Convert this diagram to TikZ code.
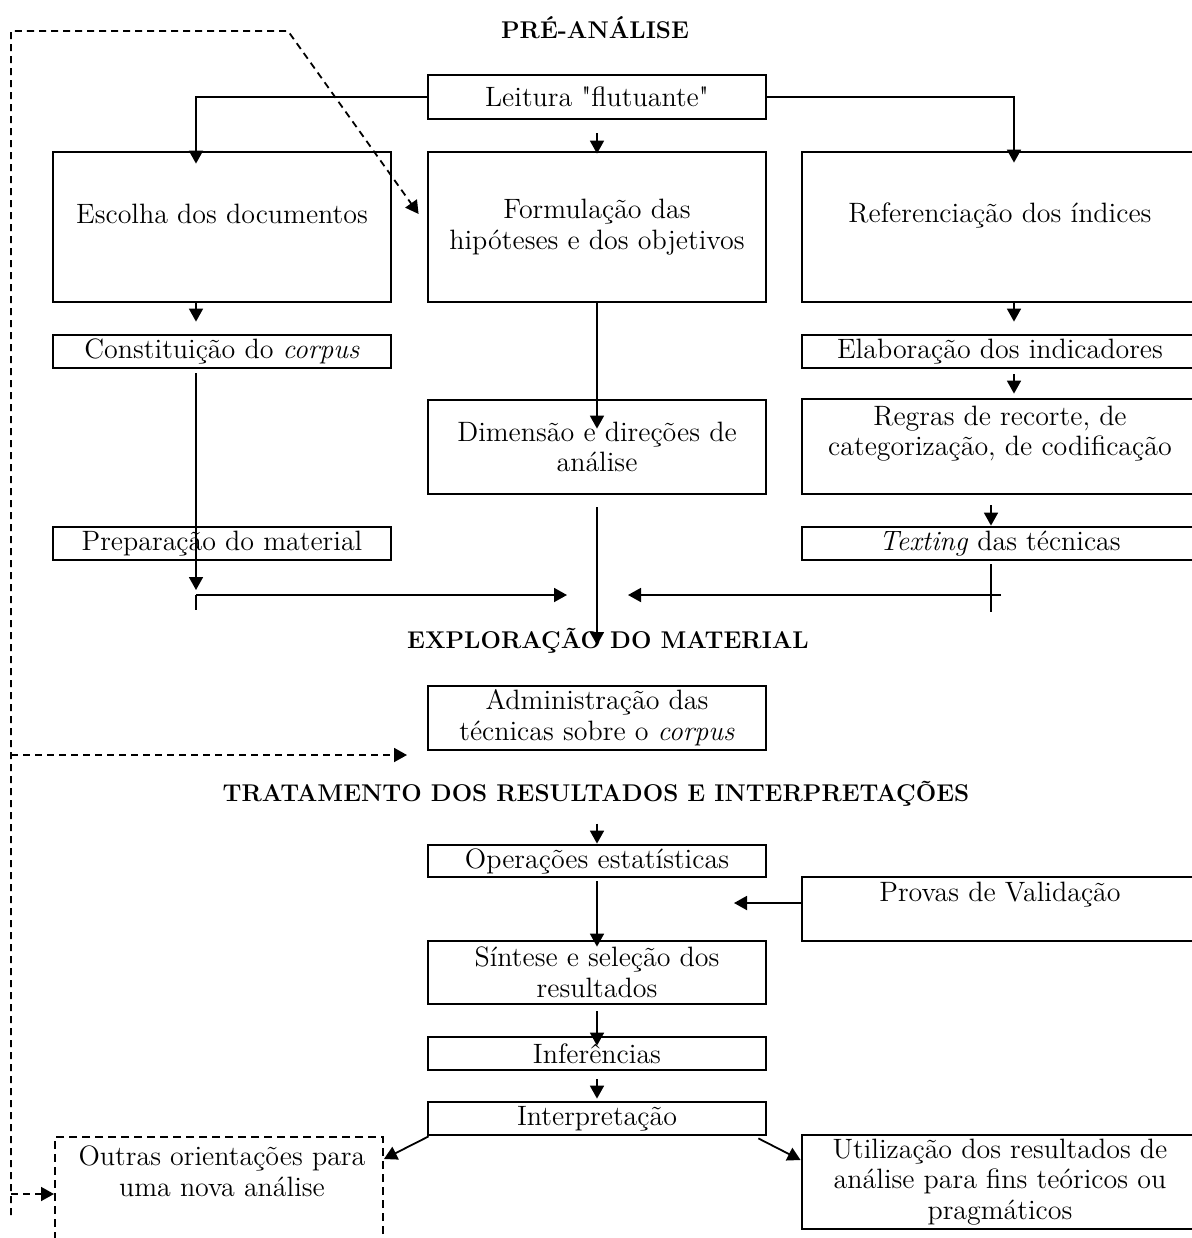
\documentclass[tikz,border=0pt]{standalone}
\usepackage{fontspec}
\usepackage{tikz}
\usetikzlibrary{arrows.meta}

\newfontfamily\plainlm{Latin Modern Roman}
\newcommand{\boxfont}{\fontsize{14}{15.3}\selectfont}
\newcommand{\headfont}{\fontsize{12.1}{14}\selectfont\bfseries}
\newcommand{\sq}{{\plainlm"}}

\tikzset{
  box/.style={draw, line width=1.4pt, inner sep=0pt, align=center, font=\boxfont},
  dbox/.style={box, line width=1pt, dash pattern=on 4pt off 2.5pt},
  txt/.style={inner sep=0pt, align=center, font=\boxfont},
  head/.style={inner sep=0pt, font=\headfont},
  con/.style={line width=0.9pt},
  arr/.style={con, -{Triangle[length=6.5pt,width=7pt]}},
  fb/.style={arr, dash pattern=on 3.5pt off 2.5pt},
}

\begin{document}
\begin{tikzpicture}[x=0.5pt, y=-0.5pt]
\useasboundingbox (0,0) rectangle (1191,1238);

\node[head] (pre) at (595,28) {PRÉ-ANÁLISE};
\node[box, minimum width=169pt, minimum height=22pt] (leitura) at (597,97) {Leitura \sq flutuante\sq};
\node[box, minimum width=169pt, minimum height=75pt] (escolha) at (222,227) {};
\node[txt] (escolhaT) at (222,214) {Escolha dos documentos};
\node[box, minimum width=169pt, minimum height=75pt] (formul) at (597,227) {Formulação das\\hipóteses e dos objetivos};
\node[box, minimum width=198pt, minimum height=75pt] (refer) at (1000,227) {};
\node[txt] (referT) at (1000,215) {Referenciação dos índices};
\node[box, minimum width=169pt, minimum height=16.5pt] (constit) at (222,351.5) {Constituição do \textit{corpus}};
\node[box, minimum width=198pt, minimum height=16.5pt] (elab) at (1000,351.5) {Elaboração dos indicadores};
\node[box, minimum width=169pt, minimum height=47pt] (dimensao) at (597,447) {Dimensão e direções de\\análise};
\node[box, minimum width=198pt, minimum height=47.5pt] (regras) at (1000,446.5) {};
\node[txt] (regrasT) at (1000,433.5) {Regras de recorte, de\\categorização, de codificação};
\node[box, minimum width=169pt, minimum height=16.5pt] (prepar) at (222,543.5) {Preparação do material};
\node[box, minimum width=198pt, minimum height=16.5pt] (texting) at (1000,543.5) {\textit{Texting} das técnicas};

\node[head] (explor) at (608,641) {EXPLORAÇÃO DO MATERIAL};
\node[box, minimum width=169pt, minimum height=32pt] (admin) at (597,718) {Administração das\\técnicas sobre o \textit{corpus}};

\node[head] (trat) at (596,794) {TRATAMENTO DOS RESULTADOS E INTERPRETAÇÕES};
\node[box, minimum width=169pt, minimum height=16pt] (operac) at (597,861) {Operações estatísticas};
\node[box, minimum width=198pt, minimum height=32pt] (provas) at (1000,909) {};
\node[txt] (provasT) at (1000,895) {Provas de Validação};
\node[box, minimum width=169pt, minimum height=31.5pt] (sintese) at (597,972.5) {Síntese e seleção dos\\resultados};
\node[box, minimum width=169pt, minimum height=16.5pt] (infer) at (597,1053.5) {Inferências};
\node[box, minimum width=169pt, minimum height=16.5pt] (interp) at (597,1118.5) {Interpretação};
\node[dbox, minimum width=164pt, minimum height=66.5pt] (outras) at (219,1203.5) {};
\node[txt] (outrasT) at (222,1171) {Outras orientações para\\uma nova análise};
\node[box, minimum width=198pt, minimum height=47pt] (utiliz) at (1000,1182) {Utilização dos resultados de\\análise para fins teóricos ou\\pragmáticos};

\coordinate (loopTL) at (11,31);
\coordinate (loopTR) at (288,31);
\coordinate (loopM) at (11,755);
\coordinate (loopO) at (11,1194);
\coordinate (loopB) at (11,1215);
\coordinate (meetA) at (407,755);
\coordinate (joinL) at (196,595);
\coordinate (joinR) at (991,595);
\coordinate (meetL) at (567,595);
\coordinate (meetR) at (628,595);
\coordinate (meetC) at (597,645);
\coordinate (meetP) at (734,903);

% pre-analise
\draw[arr] (leitura.west) -| ([xshift=-13pt,yshift=-6.5pt]escolha.north);
\draw[arr] (leitura.east) -| ([xshift=7pt,yshift=-6pt]refer.north);
\draw[arr, shorten <=6.5pt, shorten >=-1.5pt] (leitura) -- (formul);
\draw[arr, shorten >=6pt] ([xshift=-13pt]escolha.south) -- ([xshift=-13pt]constit.north);
\draw[arr, shorten <=2pt] ([xshift=-13pt]constit.south) -- ([yshift=2.5pt]joinL);
\draw[con] (joinL) -- ++(0,15);
\draw[arr] (joinL) -- (meetL);
\draw[arr, shorten >=-15pt] (formul) -- (dimensao);
\draw[arr, shorten <=6pt] (dimensao) -- (meetC);
\draw[arr, shorten >=6pt] ([xshift=7pt]refer.south) -- ([xshift=7pt]elab.north);
\draw[arr, shorten <=2.5pt, shorten >=2pt] ([xshift=7pt]elab.south) -- ([xshift=7pt]regras.north);
\draw[arr, shorten <=5pt] ([xshift=-4.5pt]regras.south) -- ([xshift=-4.5pt]texting.north);
\draw[con] ([xshift=-4.5pt,yshift=-1.5pt]texting.south) -- (joinR) -- ++(0,17);
\draw[arr] ([xshift=5pt]joinR) -- (meetR);

% retorno tracejado
\draw[fb] (loopB) -- (loopTL) -- (loopTR) -- ([xshift=-4pt,yshift=6.5pt]formul.west);
\draw[fb] (loopM) -- (meetA);
\draw[fb] (loopO) -- ([yshift=4.75pt]outras.west);

% tratamento
\draw[arr] ([yshift=10pt]operac.north) -- (operac.north);
\draw[arr, shorten <=1.5pt, shorten >=-3.5pt] (operac) -- (sintese);
\draw[arr] ([yshift=3pt]provas.west) -- (meetP);
\draw[arr, shorten <=3pt, shorten >=-5pt] (sintese) -- (infer);
\draw[arr, shorten <=4pt, shorten >=1pt] (infer) -- (interp);
\draw[arr] ([xshift=1pt]interp.south west) -- ([yshift=-11.5pt]outras.north east);
\draw[arr] ([xshift=-4.5pt,yshift=-1pt]interp.south east) -- ([yshift=11pt]utiliz.west);
\end{tikzpicture}
\end{document}
